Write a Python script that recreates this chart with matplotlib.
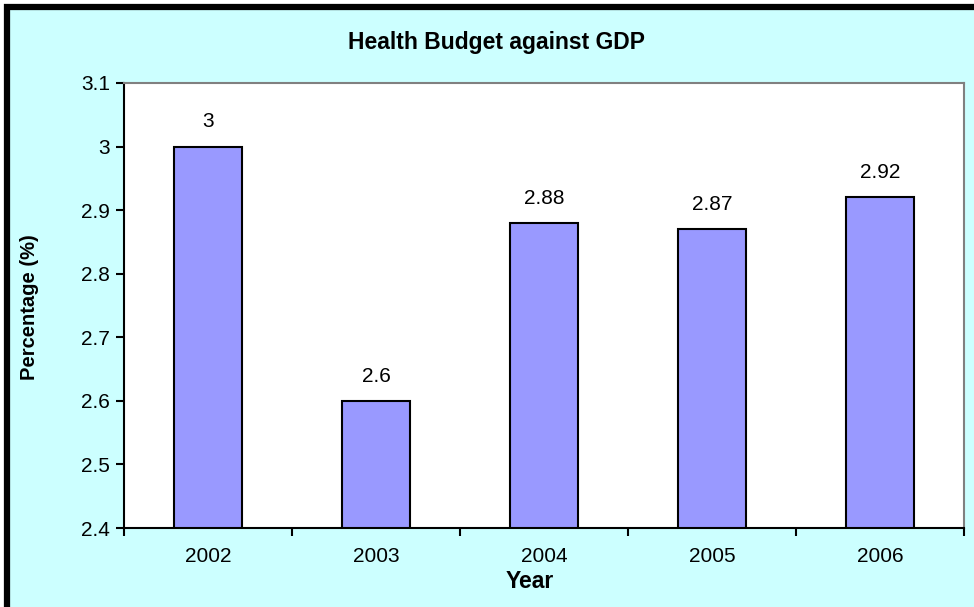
import matplotlib
matplotlib.use("Agg")
import matplotlib.pyplot as plt
from matplotlib.patches import Rectangle

years = ["2002", "2003", "2004", "2005", "2006"]
values = [3.0, 2.6, 2.88, 2.87, 2.92]
value_labels = ["3", "2.6", "2.88", "2.87", "2.92"]
yticks = [2.4, 2.5, 2.6, 2.7, 2.8, 2.9, 3.0, 3.1]
ytick_labels = ["2.4", "2.5", "2.6", "2.7", "2.8", "2.9", "3", "3.1"]

plt.rcParams['font.family'] = ['Liberation Sans', 'DejaVu Sans']

W, H = 974, 607
fig = plt.figure(figsize=(W / 100, H / 100), dpi=100)
fig.patch.set_facecolor("white")

# background panel with thick black border at top/left
fig.patches.append(Rectangle((6.5 / W, -0.1), 1.2, 1 - 7 / H + 0.1, transform=fig.transFigure,
                             facecolor="#CCFFFF", edgecolor="black", linewidth=4.5, zorder=-10))

ax = fig.add_axes([124 / W, 1 - 528 / H, (964 - 124) / W, (528 - 83) / H])
ax.set_facecolor("white")

x = list(range(len(years)))
ax.bar(x, values, width=0.4, bottom=0, color="#9999FF", edgecolor="black", linewidth=1.5, zorder=2)
for xi, v, lab in zip(x, values, value_labels):
    ax.annotate(lab, (xi, v), xytext=(0, 11), textcoords="offset points",
                ha="center", va="bottom", fontsize=15)

ax.set_xlim(-0.5, len(years) - 0.5)
ax.set_ylim(2.4, 3.1)
ax.set_yticks(yticks)
ax.set_yticklabels(ytick_labels, fontsize=15)
ax.set_xticks(x)
ax.set_xticklabels(years, fontsize=15)
ax.set_xticks([i - 0.5 for i in range(len(years) + 1)], minor=True)
ax.tick_params(axis="x", which="major", length=0, pad=14)
ax.tick_params(axis="x", which="minor", length=6, width=1.5, direction="out")
ax.tick_params(axis="y", which="major", length=6, width=1.5, direction="out", pad=4)

for s in ["left", "bottom"]:
    ax.spines[s].set_color("black")
    ax.spines[s].set_linewidth(1.5)
for s in ["top", "right"]:
    ax.spines[s].set_color("#808080")
    ax.spines[s].set_linewidth(1.5)

fig.text(496 / W, 1 - 42 / H, "Health Budget against GDP", ha="center", va="center",
         fontsize=16.5, fontweight="bold")
fig.text(30 / W, 1 - 307 / H, "Percentage (%)", ha="center", va="center", rotation=90,
         fontsize=14.5, fontweight="bold")
fig.text(530 / W, 1 - 581 / H, "Year", ha="center", va="center", fontsize=16.5, fontweight="bold")

fig.savefig("out.png", dpi=100)
